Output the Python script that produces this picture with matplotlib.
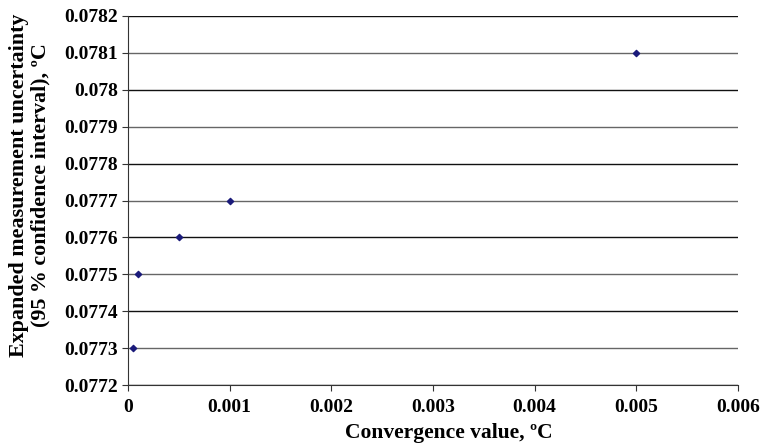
import matplotlib
matplotlib.use("Agg")
import matplotlib.pyplot as plt

conv = [0.00005, 0.0001, 0.0005, 0.001, 0.005]
unc = [0.0773, 0.0775, 0.0776, 0.0777, 0.0781]
yticks = [0.0772, 0.0773, 0.0774, 0.0775, 0.0776, 0.0777, 0.0778, 0.0779, 0.078, 0.0781, 0.0782]
ylabels = ["0.0772", "0.0773", "0.0774", "0.0775", "0.0776", "0.0777", "0.0778", "0.0779", "0.078", "0.0781", "0.0782"]
xticks = [0, 0.001, 0.002, 0.003, 0.004, 0.005, 0.006]
xlabels = ["0", "0.001", "0.002", "0.003", "0.004", "0.005", "0.006"]

plt.rcParams['font.family'] = ['Liberation Serif', 'DejaVu Serif']
fig = plt.figure(figsize=(7.63, 4.47), dpi=100)
ax = fig.add_axes([128/763, 62/447, 610/763, 369/447])

ax.set_xlim(0, 0.006)
ax.set_ylim(0.0772, 0.0782)
ax.set_yticks(yticks)
ax.set_yticklabels(ylabels, fontsize=14, fontweight='bold')
ax.set_xticks(xticks)
ax.set_xticklabels(xlabels, fontsize=14, fontweight='bold')
ax.grid(axis='y', color='#111111', linewidth=1.0)
for i, gl in enumerate(ax.get_ygridlines()):
    if i % 2 == 1:
        gl.set_color('#666666')
ax.set_axisbelow(True)
for s in ['top', 'right']:
    ax.spines[s].set_visible(False)
for s in ['left', 'bottom']:
    ax.spines[s].set_color('#333333')
ax.tick_params(direction='out', length=4, color='#333333')
ax.tick_params(axis='y', pad=3)
ax.tick_params(axis='x', pad=6)

ax.scatter(conv, unc, marker='D', s=10, color='#1a1a7a', zorder=3, clip_on=False)

ax.set_xlabel('Convergence value, ºC', fontsize=15.5, fontweight='bold')
ax.xaxis.set_label_coords(0.526, -0.103)
ax.set_ylabel('Expanded measurement uncertainty\n(95 % confidence interval), ºC', fontsize=15.8, fontweight='bold', linespacing=1.12)
ax.yaxis.set_label_coords(-0.127, 0.542)

fig.savefig('out.png', dpi=100)
